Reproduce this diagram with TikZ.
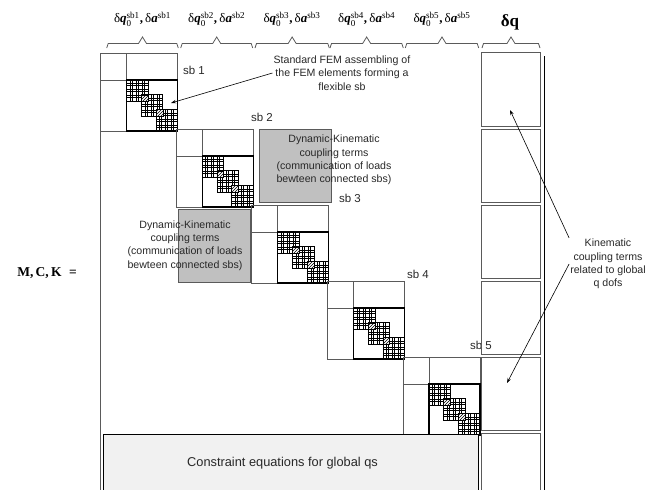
\documentclass[tikz,border=0pt]{standalone}
\usepackage{amsmath}
\usepackage{fontspec}
\setmainfont{Liberation Serif}
\setsansfont{Liberation Sans}
\usepackage{tikz}
\usepackage{xcolor}
\usetikzlibrary{arrows.meta, patterns}
\definecolor{inkgray}{RGB}{40,40,40}
\definecolor{linegray}{RGB}{90,90,90}
\definecolor{couplegray}{RGB}{192,192,192}
\definecolor{constrbg}{RGB}{241,241,241}
\newcommand{\sbhead}[1]{δ\textbf{\textit{q}}$_{\text{0}}^{\text{sb#1}}$\textbf{,}\,δ\textbf{\textit{a}}$^{\text{sb#1}}$}

\begin{document}
\begin{tikzpicture}[
  x=1pt, y=-1pt,
  every node/.style={align=center, inner sep=1pt},
  hdrlabel/.style={font=\fontsize{13}{15}\selectfont},
  dqlabel/.style={font=\fontsize{17}{19}\selectfont\bfseries},
  eqlabel/.style={font=\fontsize{13.5}{15}\selectfont\bfseries},
  sblabel/.style={font=\sffamily\fontsize{11.5}{13}\selectfont, text=inkgray},
  notetext/.style={font=\sffamily\fontsize{10.6}{13.3}\selectfont, text=inkgray},
  brc/.style={linegray, line width=0.8pt},
  sbbox/.style={draw=linegray, line width=0.7pt},
  innerbox/.style={draw=black, line width=1.2pt},
  chk/.style={draw=black, line width=0.6pt, fill=white},
  chkline/.style={black, line width=0.35pt},
  ovl/.style={draw=black, line width=0.5pt, pattern=north east lines},
  couplebox/.style={draw=linegray, line width=0.8pt, fill=couplegray,
    minimum width=72pt, minimum height=73pt, inner sep=0pt},
  dqbox/.style={draw=linegray, line width=0.8pt,
    minimum width=59pt, minimum height=73.3pt, inner sep=0pt},
  arr/.style={-{Stealth[length=5pt, width=3.5pt]}, black, line width=0.6pt},
]
\useasboundingbox (0,0) rectangle (662,490);

%% ─── Column headers and braces ───────────────────────────────────────────────

\foreach \i/\cx in {1/142.5, 2/216.7, 3/292, 4/366.7, 5/442}{
  \node[hdrlabel] (h\i) at (\cx,19) {\sbhead{\i}};
}
\node[dqlabel] (hdq) at (510,22) {δq};

\foreach \l/\r in {106.7/178.3, 180.7/252.7, 255/329.3, 330/403.3, 405.3/478.7, 482/540}{
  \draw[brc] (\l,48) -- ({\l+1.5},43.5) -- ({(\l+\r)/2-4},43.5) -- ({(\l+\r)/2},37)
    -- ({(\l+\r)/2+4},43.5) -- ({\r-1.5},43.5) -- (\r,48);
}

%% ─── Matrix borders ──────────────────────────────────────────────────────────

\node[eqlabel] (mck) at (47,273) {M,\,C,\,K\;\;=};
\draw[linegray, line width=0.9pt] (100,53) -- (100,490);
\draw[black, line width=0.9pt] (544,56) -- (544,490);

%% ─── Flexible sb blocks on the diagonal ──────────────────────────────────────

\foreach \i in {0,...,4}{
  \begin{scope}[shift={({100.5+75.6*\i},{53+76*\i})}]
    \draw[sbbox] (0,0) rectangle (77,78);
    \draw[sbbox] (0,27) -- (26,27) (26,0) -- (26,27);
    \foreach \k in {0,1,2}{
      \pgfmathsetmacro\cx{26+14.75*\k}
      \pgfmathsetmacro\cy{27+14.75*\k}
      \draw[chk] (\cx,\cy) rectangle ++(21.5,21.5);
      \foreach \t in {3.5,5.5,9.5,11.5,15.5,17.5}{
        \draw[chkline] ({\cx+\t},\cy) -- ++(0,21.5);
        \draw[chkline] (\cx,{\cy+\t}) -- ++(21.5,0);
      }
    }
    \foreach \k in {1,2}{
      \pgfmathsetmacro\ox{26+14.75*\k}
      \pgfmathsetmacro\oy{27+14.75*\k}
      \fill[white] (\ox,\oy) rectangle ++(6.75,6.75);
      \draw[ovl] (\ox,\oy) rectangle ++(6.75,6.75);
    }
    \draw[innerbox] (26,27) rectangle (77,78);
  \end{scope}
}

\node[sblabel] (sb1) at (194,70)  {sb 1};
\node[sblabel] (sb2) at (262,117) {sb 2};
\node[sblabel] (sb3) at (350,198) {sb 3};
\node[sblabel] (sb4) at (418,274) {sb 4};
\node[sblabel] (sb5) at (481,345) {sb 5};

%% ─── Dynamic-Kinematic coupling terms ────────────────────────────────────────

\node[couplebox] (cup) at (295,165.5) {};
\node[couplebox] (clo) at (214.5,246) {};
\node[notetext] (cuptxt) at (334,160)
  {Dynamic-Kinematic\\coupling terms\\(communication of loads\\bewteen connected sbs)};
\node[notetext] (clotxt) at (185,245.5)
  {Dynamic-Kinematic\\coupling terms\\(communication of loads\\bewteen connected sbs)};

%% ─── Global q column ─────────────────────────────────────────────────────────

\foreach \k in {0,...,5}{
  \node[dqbox] (dq\k) at (510.5,{89.4+76.2*\k}) {};
}

%% ─── Constraint equations ────────────────────────────────────────────────────

\draw[black, line width=0.8pt, fill=constrbg] (103,434) rectangle (478,492);
\node[notetext, font=\sffamily\fontsize{12.8}{15}\selectfont] (cons) at (282.5,463)
  {Constraint equations for global qs};

%% ─── Annotations ─────────────────────────────────────────────────────────────

\node[notetext] (fem) at (342,73)
  {Standard FEM assembling of\\the FEM elements forming a\\flexible sb};
\coordinate (femtip) at (171,103);
\draw[arr] (fem.west) -- (femtip);

\node[notetext] (kin) at (608,264)
  {Kinematic\\coupling terms\\related to global\\q dofs};
\coordinate (kintip1) at (510,110);
\coordinate (kintip2) at (507,383);
\draw[arr] (kin.north west) -- (kintip1);
\draw[arr] (kin.west) -- (kintip2);

\end{tikzpicture}
\end{document}
